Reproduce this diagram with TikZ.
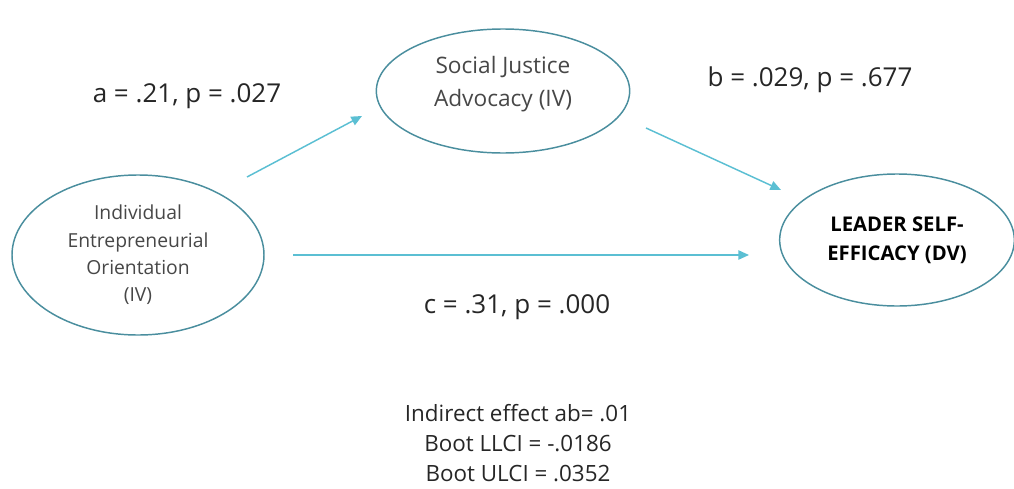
\documentclass[tikz,border=0pt]{standalone}
\usepackage{fontspec}
\setmainfont{Open Sans}
\usetikzlibrary{arrows.meta,shapes.geometric}
\definecolor{rimteal}{HTML}{4A8E9E}
\definecolor{arrowteal}{HTML}{5BBFD3}
\definecolor{inkgray}{HTML}{262626}
\tikzset{
    construct/.style = {
        draw = rimteal,
        line width = 1.1pt,
        ellipse,
        align = center,
        inner sep = 0pt,
        text = inkgray!85,
        font = \fontsize{14.5}{20.5}\selectfont,
        },
    path label/.style = {
        text = inkgray,
        font = \fontsize{19.5}{22}\selectfont,
        },
    link/.style = {
        draw = arrowteal,
        line width = 1.1pt,
        -{Triangle[length=8pt,width=7pt]},
        },
    summary/.style = {
        align = center,
        text = inkgray,
        font = \fontsize{16.8}{22.5}\selectfont,
        }
}
\begin{document}
\begin{tikzpicture}[x=0.75pt,y=-0.75pt]
            \useasboundingbox (0,0) rectangle (1014,489);

            \node[construct, minimum width=189pt, minimum height=120pt] (ieo) at (138,255)
                {Individual\\Entrepreneurial\\Orientation\\(IV)};
            \node[construct, minimum width=190pt, minimum height=93pt] (sja) at (503,91) {};
            \node[align=center, text=inkgray!85, font=\fontsize{17}{25}\selectfont] (sja text) at (503,84)
                {Social Justice\\Advocacy (IV)};
            \node[construct, minimum width=176pt, minimum height=99pt, font=\fontsize{15.2}{21.5}\selectfont\bfseries, text=black] (lse) at (897,240)
                {LEADER SELF-\\EFFICACY (DV)};

            %\draw[link] (ieo) -- (sja);
            %\draw[link] (sja) -- (lse);
            %\draw[link] (ieo) -- (lse);

            \coordinate (a tail) at (247,177);
            \coordinate (a head) at (362,116);
            \coordinate (b tail) at (646,128);
            \coordinate (b head) at (781,190);
            \coordinate (c tail) at (293,255);
            \coordinate (c head) at (749,255);

            \path (a tail) edge[link] (a head);
            \path (b tail) edge[link] (b head);
            \path (c tail) edge[link] (c head);

            \node[path label] (a label) at (187,96) {a = .21, p = .027};
            \node[path label] (b label) at (810,80) {b = .029, p = .677};
            \node[path label] (c label) at (517,307) {c = .31, p = .000};

            \node[summary] (effect) at (518,443)
                {Indirect effect ab= .01\\Boot LLCI = -.0186\\Boot ULCI = .0352};
        \end{tikzpicture}
\end{document}
